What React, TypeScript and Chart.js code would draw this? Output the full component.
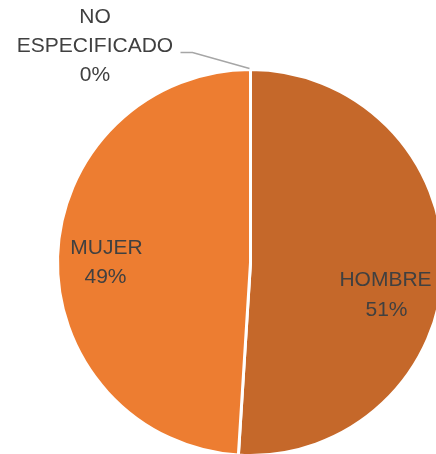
import React, { useEffect, useRef } from "react";
import { Chart, registerables } from "chart.js";

Chart.register(...registerables);

const categories = ["HOMBRE", "MUJER", "NO ESPECIFICADO"];
const values = [51, 49, 0];
const percentLabels = ["51%", "49%", "0%"];
const colors = ["#C5682A", "#ED7D31", "#A5A5A5"];

const FONT = '21px "Liberation Sans", Arial, sans-serif';
const TEXT_COLOR = "#404040";

const labelPlugin = {
  id: "pieLabels",
  afterDraw(chart: any) {
    const ctx = chart.ctx;
    const meta = chart.getDatasetMeta(0);
    const arc0 = meta.data[0];
    const cx = arc0.x;
    const cy = arc0.y;
    const r = arc0.outerRadius;
    ctx.save();
    ctx.font = FONT;
    ctx.fillStyle = TEXT_COLOR;
    ctx.textAlign = "center";
    ctx.textBaseline = "middle";
    // HOMBRE
    ctx.fillText(categories[0], cx + 135, cy + 18);
    ctx.fillText(percentLabels[0], cx + 136, cy + 48);
    // MUJER
    ctx.fillText(categories[1], cx - 144, cy - 14);
    ctx.fillText(percentLabels[1], cx - 145, cy + 15);
    // NO ESPECIFICADO with leader line
    const words = categories[2].split(" ");
    const lx = 95;
    ctx.fillText(words[0], lx, cy - 245);
    ctx.fillText(words[1], lx, cy - 216);
    ctx.fillText(percentLabels[2], lx, cy - 187);
    ctx.strokeStyle = "#A6A6A6";
    ctx.lineWidth = 1.5;
    ctx.beginPath();
    ctx.moveTo(cx - 70, cy - 210);
    ctx.lineTo(cx - 58, cy - 210);
    ctx.lineTo(cx - 1, cy - r - 1);
    ctx.stroke();
    ctx.restore();
  },
};

export default function App() {
  const ref = useRef<HTMLCanvasElement>(null);
  useEffect(() => {
    if (!ref.current) return;
    const chart = new Chart(ref.current, {
      type: "pie",
      data: {
        labels: categories,
        datasets: [
          {
            data: values,
            backgroundColor: colors,
            borderColor: "#FFFFFF",
            borderWidth: 3,
          },
        ],
      },
      options: {
        responsive: false,
        animation: false,
        layout: { padding: { left: 56, right: 55, top: 68, bottom: 43 } },
        plugins: {
          legend: { display: false },
          tooltip: { enabled: false },
        },
      },
      plugins: [labelPlugin],
    });
    return () => chart.destroy();
  }, []);
  return (
    <div
      style={{
        position: "fixed",
        left: 0,
        top: 0,
        width: 436,
        height: 454,
        overflow: "hidden",
        background: "#FFFFFF",
      }}
    >
      <canvas ref={ref} width={500} height={500} style={{ display: "block" }} />
    </div>
  );
}
